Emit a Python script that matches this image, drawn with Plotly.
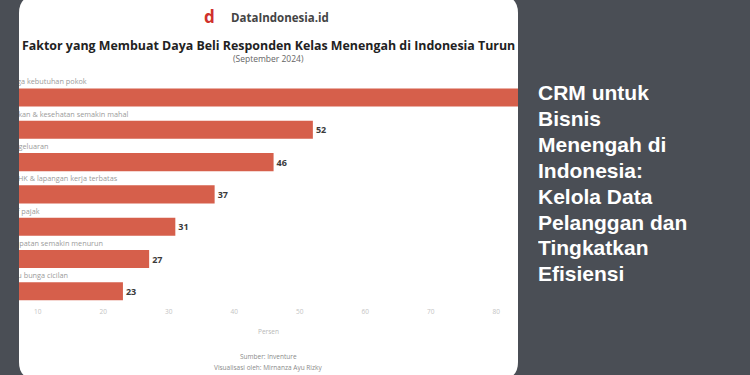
import plotly.graph_objects as go

W, H = 750, 375

# ---- data ----
categories = [
    "Kenaikan harga kebutuhan pokok",
    "Biaya pendidikan & kesehatan semakin mahal",
    "Kenaikan pengeluaran",
    "Gelombang PHK & lapangan kerja terbatas",
    "Kenaikan tarif pajak",
    "Jumlah pendapatan semakin menurun",
    "Kenaikan suku bunga cicilan",
]
values = [85, 52, 46, 37, 31, 27, 23]
x_ticks = [10, 20, 30, 40, 50, 60, 70, 80]
headline_lines = ["CRM untuk", "Bisnis", "Menengah di", "Indonesia:",
                  "Kelola Data", "Pelanggan dan", "Tingkatkan", "Efisiensi"]

X_RANGE = [7.13, 83.32]
BG = "#4a4e55"
BAR = "#d65f4b"

def px(x):
    return x / W

def py(y):
    return 1 - y / H

positions = list(range(len(categories)))
# the value label of a bar running past the cropped edge is not visible
value_text = [str(v) if v < X_RANGE[1] - 4 else "" for v in values]

fig = go.Figure()
fig.add_trace(go.Bar(
    y=positions, x=values, orientation="h", width=0.56,
    marker=dict(color=BAR, line=dict(width=0)),
    text=value_text, textposition="outside",
    outsidetextfont=dict(family="Open Sans", size=9, color="#3a3a3a"),
    texttemplate="<b>%{text}</b>",
    cliponaxis=True, hoverinfo="skip",
))
fig.add_trace(go.Scatter(
    x=[0] * len(categories), y=[p - 0.46 for p in positions],
    mode="text", text=categories, textposition="middle right",
    textfont=dict(family="Open Sans", size=7.3, color="#9a9a9a"),
    cliponaxis=True, hoverinfo="skip",
))

# card with rounded corners
x0, x1, y0, y1, r = 19, 518, -4, 379, 17
path = (f"M {px(x0+r)} {py(y0)} L {px(x1-r)} {py(y0)} "
        f"Q {px(x1)} {py(y0)} {px(x1)} {py(y0+r)} L {px(x1)} {py(y1-r)} "
        f"Q {px(x1)} {py(y1)} {px(x1-r)} {py(y1)} L {px(x0+r)} {py(y1)} "
        f"Q {px(x0)} {py(y1)} {px(x0)} {py(y1-r)} L {px(x0)} {py(y0+r)} "
        f"Q {px(x0)} {py(y0)} {px(x0+r)} {py(y0)} Z")
shapes = [
    dict(type="path", path=path, xref="paper", yref="paper",
         fillcolor="white", line=dict(width=0), layer="below"),
]

def note(x, y, text, size, color, family="Open Sans", **kw):
    d = dict(x=px(x), y=py(y), xref="paper", yref="paper", text=text,
             xanchor="center", yanchor="middle",
             showarrow=False, font=dict(family=family, size=size, color=color))
    d.update(kw)
    return d

annotations = [
    note(209, 16.5, "<b>d</b>", 17, "#d0312d"),
    note(280, 17, "<b>DataIndonesia.id</b>", 11.5, "#444444"),
    note(268.5, 45, "<b>Faktor yang Membuat Daya Beli Responden Kelas Menengah di Indonesia Turun</b>",
         12.4, "#222222"),
    note(268, 58.5, "(September 2024)", 8.5, "#666666"),
    note(268, 356, "Sumber: Inventure", 6.5, "#8a8a8a"),
    note(268, 367.5, "Visualisasi oleh: Mirnanza Ayu Rizky", 6.5, "#8a8a8a"),
]
for i, line in enumerate(headline_lines):
    annotations.append(note(536, 92 + i * 25.9, "<b>" + line + "</b>", 21, "white",
                            family="Liberation Sans", xanchor="left", align="left",
                            height=24))

fig.update_layout(
    width=W, height=H, margin=dict(l=0, r=0, t=0, b=0),
    paper_bgcolor=BG, plot_bgcolor="rgba(0,0,0,0)",
    showlegend=False, shapes=shapes, annotations=annotations,
    xaxis=dict(domain=[px(19), px(518)], range=X_RANGE,
               tickvals=x_ticks, ticktext=[str(t) for t in x_ticks],
               tickfont=dict(family="Open Sans", size=6.5, color="#c4c4c4"),
               ticklabelstandoff=3,
               showgrid=False, zeroline=False, showline=False, ticks="",
               title=dict(text="Persen", font=dict(family="Open Sans", size=6.5, color="#b8b8b8"),
                          standoff=14)),
    yaxis=dict(domain=[py(303), py(75)], range=[6.362, -0.697],
               showticklabels=False, showgrid=False, zeroline=False, showline=False, ticks=""),
)

fig.write_html("out.html")
